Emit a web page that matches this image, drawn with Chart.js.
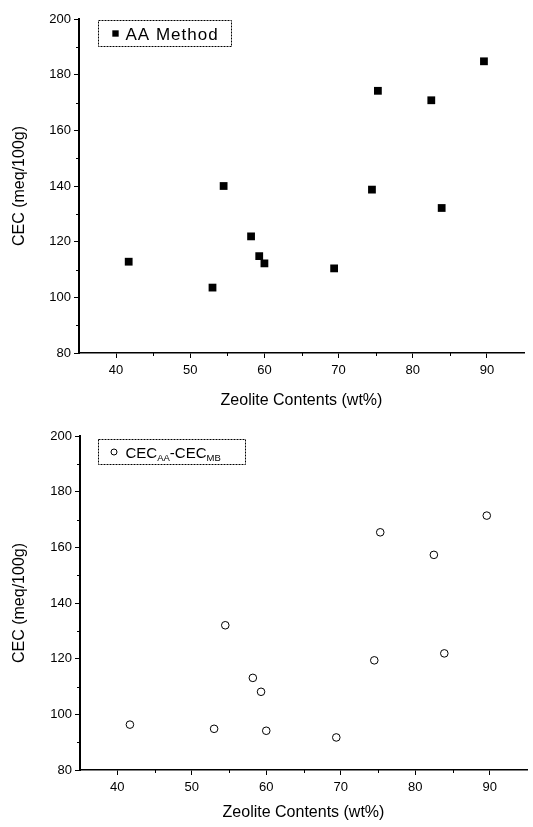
<!DOCTYPE html>
<html>
<head>
<meta charset="utf-8">
<title>CEC vs Zeolite Contents</title>
<script src="https://cdn.jsdelivr.net/npm/chart.js@4.4.1/dist/chart.umd.min.js"></script>
<style>
    html, body { margin: 0; padding: 0; background: #fff; }
    .panel { position: absolute; left: 0; width: 533px; }
</style>
</head>
<body>
<div class="panel" style="top:0;height:415px"><canvas id="chartAA"></canvas></div>
<div class="panel" style="top:415px;height:412px"><canvas id="chartDiff"></canvas></div>
<script>
// values
const zeoliteWt = [41.7, 53.0, 54.5, 58.2, 59.3, 60.0, 69.4, 74.5, 75.3, 82.5, 83.9, 89.6];
const cecAA = [112.8, 103.5, 140.0, 121.9, 114.8, 112.2, 110.4, 138.7, 174.2, 170.8, 132.1, 184.8];
const cecDiff = [96.3, 94.8, 132.0, 113.1, 108.1, 94.1, 91.7, 119.4, 165.4, 157.3, 121.9, 171.4];

const xTicks = [40, 50, 60, 70, 80, 90];
const xMinorTicks = [45, 55, 65, 75, 85];
const yTicks = [80, 100, 120, 140, 160, 180, 200];
const yMinorTicks = [90, 110, 130, 150, 170, 190];

const fontFamily = '"Liberation Sans", Arial, sans-serif';
Chart.defaults.font.family = fontFamily;
Chart.defaults.color = '#000';

// short minor tick marks between the labelled ones
const minorTicks = {
    id: 'minorTicks',
    afterDraw(chart) {
        const ctx = chart.ctx;
        const x = chart.scales.x, y = chart.scales.y;
        ctx.save();
        ctx.strokeStyle = '#000';
        ctx.lineWidth = 1;
        ctx.beginPath();
        xMinorTicks.forEach(v => {
            const px = Math.round(x.getPixelForValue(v)) + 0.5;
            ctx.moveTo(px, x.top);
            ctx.lineTo(px, x.top + 3);
        });
        yMinorTicks.forEach(v => {
            const py = Math.round(y.getPixelForValue(v)) + 0.5;
            ctx.moveTo(y.right, py);
            ctx.lineTo(y.right - 3, py);
        });
        ctx.stroke();
        ctx.restore();
    }
};

// boxed legend inside the plot, text may carry subscripts
const boxLegend = {
    id: 'boxLegend',
    afterDraw(chart, args, opts) {
        const ctx = chart.ctx, area = chart.chartArea;
        const left = Math.round(area.left + opts.dx) + 0.5;
        const top = Math.round(area.top + opts.dy) + 0.5;
        ctx.save();
        ctx.strokeStyle = '#000';
        ctx.lineWidth = 1;
        ctx.setLineDash([2, 1]);
        ctx.strokeRect(left, top, opts.width, opts.height);
        ctx.setLineDash([]);

        const ds = chart.data.datasets[0];
        const my = top + opts.height / 2;
        ctx.fillStyle = ds.pointBackgroundColor;
        ctx.strokeStyle = ds.pointBorderColor;
        ctx.lineWidth = ds.pointBorderWidth;
        Chart.helpers.drawPoint(ctx, {
            pointStyle: ds.pointStyle,
            radius: opts.markerRadius,
            borderWidth: ds.pointBorderWidth,
            rotation: 0
        }, left + opts.markerX, my);

        ctx.fillStyle = '#000';
        ctx.textBaseline = 'alphabetic';
        ctx.letterSpacing = opts.letterSpacing || '0px';
        let tx = left + opts.textX;
        opts.parts.forEach(p => {
            ctx.font = (p.sub ? opts.subSize : opts.fontSize) + 'px ' + fontFamily;
            ctx.fillText(p.text, tx, my + opts.baseline + (p.sub ? opts.subDrop : 0));
            tx += ctx.measureText(p.text).width;
        });
        ctx.restore();
    }
};

function makeScales(yWidth, xHeight) {
    return {
        x: {
            type: 'linear',
            min: 35,
            max: 95,
            afterBuildTicks: s => { s.ticks = xTicks.map(v => ({ value: v })); },
            afterFit: s => { s.height = xHeight; },
            ticks: { font: { size: 13 }, color: '#000', padding: 5, maxRotation: 0 },
            grid: { display: true, drawOnChartArea: false, drawTicks: true, tickLength: 5, tickColor: '#000', tickWidth: 1 },
            border: { display: true, color: '#000', width: 1.5 },
            title: { display: true, text: 'Zeolite Contents (wt%)', font: { size: 16 }, color: '#000', padding: { top: 0, bottom: 5 } }
        },
        y: {
            type: 'linear',
            min: 80,
            max: 200,
            afterBuildTicks: s => { s.ticks = yTicks.map(v => ({ value: v })); },
            afterFit: s => { s.width = yWidth; },
            ticks: { font: { size: 13 }, color: '#000', padding: 3 },
            grid: { display: true, drawOnChartArea: false, drawTicks: true, tickLength: 5, tickColor: '#000', tickWidth: 1 },
            border: { display: true, color: '#000', width: 2 },
            title: { display: true, text: 'CEC (meq/100g)', font: { size: 16 }, color: '#000', padding: { top: 10, bottom: 0 } }
        }
    };
}

function toPoints(xs, ys) {
    return xs.map((x, i) => ({ x: x, y: ys[i] }));
}

// upper panel: AA method
new Chart(document.getElementById('chartAA'), {
    type: 'scatter',
    data: {
        datasets: [{
            label: 'AA Method',
            data: toPoints(zeoliteWt, cecAA),
            pointStyle: 'rect',
            pointRadius: 5.5,
            pointBackgroundColor: '#000',
            pointBorderColor: '#000',
            pointBorderWidth: 0
        }]
    },
    options: {
        responsive: true,
        maintainAspectRatio: false,
        animation: false,
        layout: { padding: { top: 19, right: 9, left: 0, bottom: 0 } },
        scales: makeScales(79, 62),
        plugins: {
            legend: { display: false },
            tooltip: { enabled: false },
            boxLegend: {
                dx: 19, dy: 1, width: 133, height: 26,
                markerX: 17, markerRadius: 4.5, textX: 27,
                fontSize: 17, subSize: 11, subDrop: 4, baseline: 6, letterSpacing: '1px',
                parts: [{ text: 'AA Method' }]
            }
        }
    },
    plugins: [minorTicks, boxLegend]
});

// lower panel: CEC_AA - CEC_MB
new Chart(document.getElementById('chartDiff'), {
    type: 'scatter',
    data: {
        datasets: [{
            label: 'CEC AA - CEC MB',
            data: toPoints(zeoliteWt, cecDiff),
            pointStyle: 'circle',
            pointRadius: 3.8,
            pointBackgroundColor: '#fff',
            pointBorderColor: '#000',
            pointBorderWidth: 1
        }]
    },
    options: {
        responsive: true,
        maintainAspectRatio: false,
        animation: false,
        layout: { padding: { top: 21, right: 6, left: 0, bottom: 0 } },
        scales: makeScales(80, 57),
        plugins: {
            legend: { display: false },
            tooltip: { enabled: false },
            boxLegend: {
                dx: 18, dy: 3, width: 147, height: 25,
                markerX: 15.5, markerRadius: 3, textX: 27,
                fontSize: 15, subSize: 9.5, subDrop: 3, baseline: 5.5, letterSpacing: '0px',
                parts: [{ text: 'CEC' }, { text: 'AA', sub: true }, { text: '-CEC' }, { text: 'MB', sub: true }]
            }
        }
    },
    plugins: [minorTicks, boxLegend]
});
</script>
</body>
</html>
